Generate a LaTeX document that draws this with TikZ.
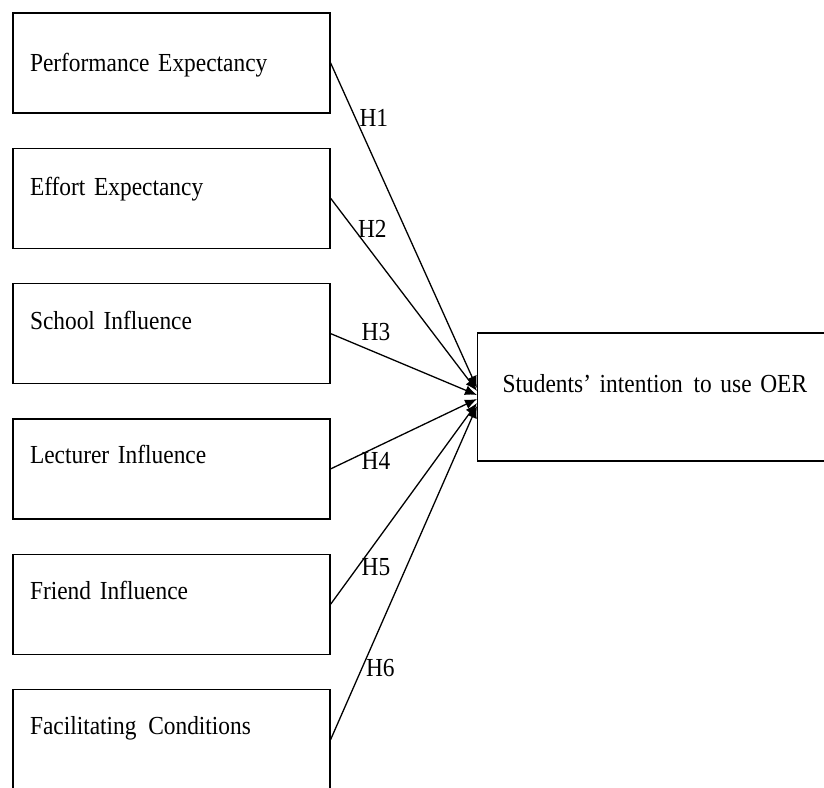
\documentclass[tikz,border=0pt]{standalone}
\usepackage{fontspec}
\setmainfont[FakeStretch=0.9]{Liberation Serif}
\usetikzlibrary{positioning,arrows.meta}
\tikzset{
  factor/.style={draw=black,line width=1.3pt,rectangle,minimum width=317pt,text width=283pt,
    inner xsep=17pt,inner ysep=0pt,text height=47pt,text depth=53pt,align=left},
  hyp/.style={-{Latex[length=12pt,width=10pt]},line width=1.3pt},
}
\begin{document}
\begin{tikzpicture}[x=1pt,y=-1pt,font=\fontsize{26pt}{30pt}\selectfont]
    \useasboundingbox (0,0) rectangle (824,787);
    \clip (0,0) rectangle (824,787);
    \node[factor,text height=58pt,text depth=42pt] (pe) at (171.5,63) {Performance Expectancy};
    \node[factor,below=34pt of pe] (ee) {Effort Expectancy};
    \node[factor,below=34pt of ee,text height=46pt,text depth=54pt] (si) {School Influence};
    \node[factor,below=34pt of si,text height=45pt,text depth=55pt] (li) {Lecturer Influence};
    \node[factor,below=34pt of li,text height=45pt,text depth=55pt] (fi) {Friend Influence};
    \node[factor,below=34pt of fi,text height=45pt,text depth=55pt] (fc) {Facilitating\hspace{3pt} Conditions};
    \node[factor,anchor=west,minimum width=380pt,text width=330pt,inner xsep=25pt,
        text height=59pt,text depth=69pt] (int) at (477,397)
        {Students’ intention\hspace{2pt} to use OER};
    \draw[hyp] (pe.east) -- node[pos=0.17,anchor=west] (h1) {H1} ([yshift=9pt]int.west);
    \draw[hyp] (ee.east) -- node[pos=0.16,anchor=west] (h2) {H2} ([yshift=6pt]int.west);
    \draw[hyp] (si.east) -- node[pos=0.31,anchor=south,yshift=8pt] (h3) {H3} ([yshift=2pt]int.west);
    \draw[hyp] (li.east) -- node[pos=0.31,anchor=north,yshift=-1pt] (h4) {H4} ([yshift=-2pt]int.west);
    \draw[hyp] (fi.east) -- node[pos=0.185,anchor=west] (h5) {H5} ([yshift=-6pt]int.west);
    \draw[hyp] (fc.east) -- node[pos=0.215,anchor=west] (h6) {H6} ([yshift=-9pt]int.west);
\end{tikzpicture}
\end{document}
